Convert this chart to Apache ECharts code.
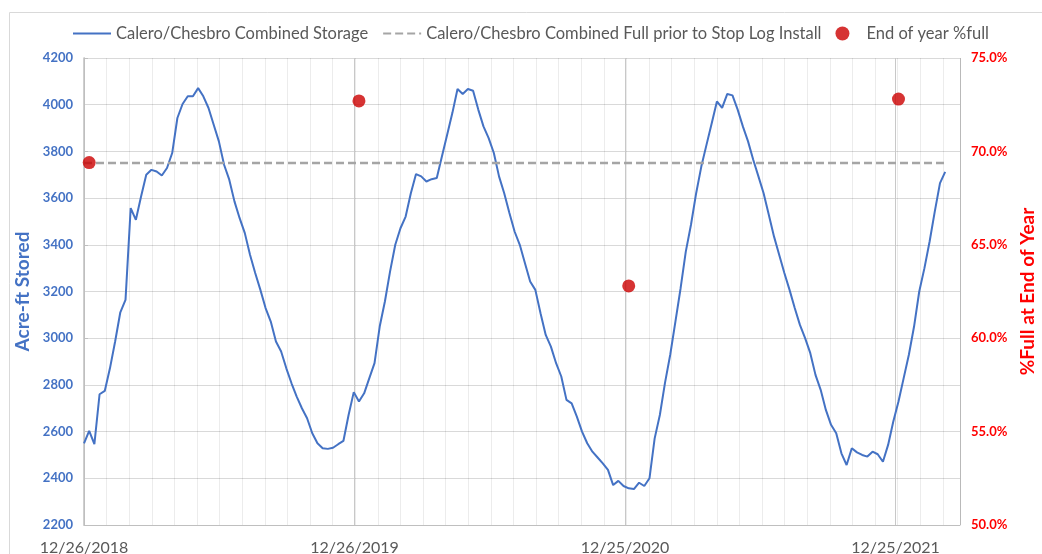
<!DOCTYPE html>
<html>
<head>
<meta charset="utf-8">
<script src="https://cdn.jsdelivr.net/npm/echarts@6/dist/echarts.min.js"></script>
<style>
html, body { margin: 0; padding: 0; background: #fff; }
#chart { width: 1042px; height: 554px; }
</style>
</head>
<body>
<div id="chart"></div>
<script>
// weekly readings starting 12/26/2018
const startDate = '2018-12-26';
const storage = [
  2550, 2603, 2546, 2760, 2774, 2871, 2986, 3111, 3164, 3557,
  3507, 3607, 3700, 3721, 3714, 3697, 3729, 3793, 3943, 4003,
  4036, 4036, 4071, 4036, 3986, 3914, 3843, 3743, 3679, 3586,
  3514, 3450, 3357, 3279, 3207, 3129, 3071, 2986, 2943, 2871,
  2807, 2750, 2700, 2657, 2593, 2550, 2529, 2526, 2531, 2546,
  2560, 2671, 2769, 2729, 2764, 2829, 2893, 3050, 3157, 3286,
  3400, 3471, 3521, 3621, 3703, 3693, 3671, 3681, 3686, 3779,
  3871, 3964, 4067, 4046, 4067, 4060, 3979, 3907, 3857, 3793,
  3693, 3621, 3536, 3457, 3400, 3321, 3243, 3207, 3107, 3014,
  2964, 2893, 2836, 2736, 2721, 2664, 2600, 2550, 2514, 2489,
  2464, 2436, 2371, 2389, 2367, 2357, 2354, 2381, 2367, 2400,
  2571, 2671, 2810, 2929, 3071, 3214, 3371, 3486, 3621, 3736,
  3829, 3921, 4014, 3986, 4046, 4040, 3979, 3907, 3843, 3764,
  3693, 3621, 3529, 3436, 3357, 3279, 3207, 3129, 3057, 3000,
  2936, 2843, 2779, 2693, 2629, 2593, 2507, 2457, 2529, 2511,
  2500, 2493, 2514, 2503, 2471, 2543, 2643, 2729, 2829, 2929,
  3050, 3200, 3300, 3414, 3543, 3664, 3712
];
const fullLevel = 3750;
const endYearDates = ['2019-01-02', '2020-01-01', '2020-12-30', '2021-12-29'];
const endYearPct = [69.4, 72.7, 62.8, 72.8];

const DAY = 86400000;
const t0 = Date.parse(startDate + 'T00:00:00Z');
const dayOf = s => Math.round((Date.parse(s + 'T00:00:00Z') - t0) / DAY);
const fmtDate = d => {
  const dt = new Date(t0 + d * DAY);
  return (dt.getUTCMonth() + 1) + '/' + dt.getUTCDate() + '/' + dt.getUTCFullYear();
};

const lastDay = 7 * (storage.length - 1);
const axisMax = 1182;

const chart = echarts.init(document.getElementById('chart'));
chart.setOption({
  animation: false,
  textStyle: { fontFamily: 'Lato' },
  grid: { left: 84, right: 82, top: 58, bottom: 29, outerBoundsMode: 'none' },
  legend: {
    top: 20, left: 67,
    itemWidth: 38, itemHeight: 14, itemGap: 14,
    textStyle: { color: '#595959', fontSize: 16.5 },
    data: [
      { name: 'Calero/Chesbro Combined Storage', itemStyle: { opacity: 0 } },
      { name: 'Calero/Chesbro Combined Full prior to Stop Log Install', itemStyle: { opacity: 0 } },
      { name: 'End of year %full', icon: 'circle' }
    ]
  },
  graphic: [{
    type: 'rect', left: 7, top: 10, silent: true, z: -10,
    shape: { width: 1100, height: 600 },
    style: { fill: 'none', stroke: '#d9d9d9', lineWidth: 1 }
  }],
  xAxis: [
    {
      type: 'value', min: 0, max: axisMax, interval: 365,
      axisLine: { show: true, lineStyle: { color: '#bfbfbf', width: 1 } },
      axisTick: { show: false },
      splitLine: { show: true, lineStyle: { color: '#c8c8c8' } },
      axisLabel: {
        color: '#595959', fontSize: 16, margin: 15,
        formatter: v => (v % 365 === 0 ? fmtDate(v) : '')
      }
    },
    {
      type: 'value', min: 0, max: axisMax, interval: 30.5,
      axisLine: { show: false }, axisTick: { show: false }, axisLabel: { show: false },
      splitLine: { show: true, lineStyle: { color: 'rgba(0,0,0,0.075)' } }
    }
  ],
  yAxis: [
    {
      type: 'value', min: 2200, max: 4200, interval: 200, position: 'left',
      name: 'Acre-ft Stored', nameLocation: 'middle', nameRotate: 90, nameGap: 52,
      nameTextStyle: { color: '#4472C4', fontSize: 19, fontWeight: 'bold' },
      axisLine: { show: true, lineStyle: { color: '#bfbfbf' } },
      axisTick: { show: false },
      axisLabel: { color: '#4472C4', fontSize: 13, fontWeight: 'bold', margin: 11,
        formatter: v => String(v) },
      splitLine: { lineStyle: { color: '#d9d9d9' } }
    },
    {
      type: 'value', min: 50, max: 75, interval: 5, position: 'right',
      name: '%Full at End of Year', nameLocation: 'middle', nameRotate: 90, nameGap: 48,
      nameTextStyle: { color: '#FF0000', fontSize: 19, fontWeight: 'bold' },
      axisLine: { show: true, lineStyle: { color: '#bfbfbf', width: 1.5 } },
      axisTick: { show: true, length: 4, lineStyle: { color: '#bfbfbf' } },
      axisLabel: { color: '#FF0000', fontSize: 13, fontWeight: 'bold', margin: 11,
        formatter: v => v.toFixed(1) + '%' },
      splitLine: { show: false }
    }
  ],
  series: [
    {
      name: 'Calero/Chesbro Combined Storage', type: 'line',
      xAxisIndex: 0, yAxisIndex: 0, symbol: 'none',
      data: storage.map((v, i) => [7 * i, v]),
      lineStyle: { color: '#4472C4', width: 2 },
      itemStyle: { color: '#4472C4' }
    },
    {
      name: 'Calero/Chesbro Combined Full prior to Stop Log Install', type: 'line',
      xAxisIndex: 0, yAxisIndex: 0, symbol: 'none',
      data: [[0, fullLevel], [lastDay, fullLevel]],
      lineStyle: { color: '#A5A5A5', width: 2.5, type: [8, 4] },
      itemStyle: { color: '#A5A5A5' }
    },
    {
      name: 'End of year %full', type: 'scatter',
      xAxisIndex: 0, yAxisIndex: 1, symbolSize: 13,
      data: endYearDates.map((d, k) => [dayOf(d), endYearPct[k]]),
      itemStyle: { color: '#CC0000' },
      z: 5
    }
  ]
});
</script>
</body>
</html>
